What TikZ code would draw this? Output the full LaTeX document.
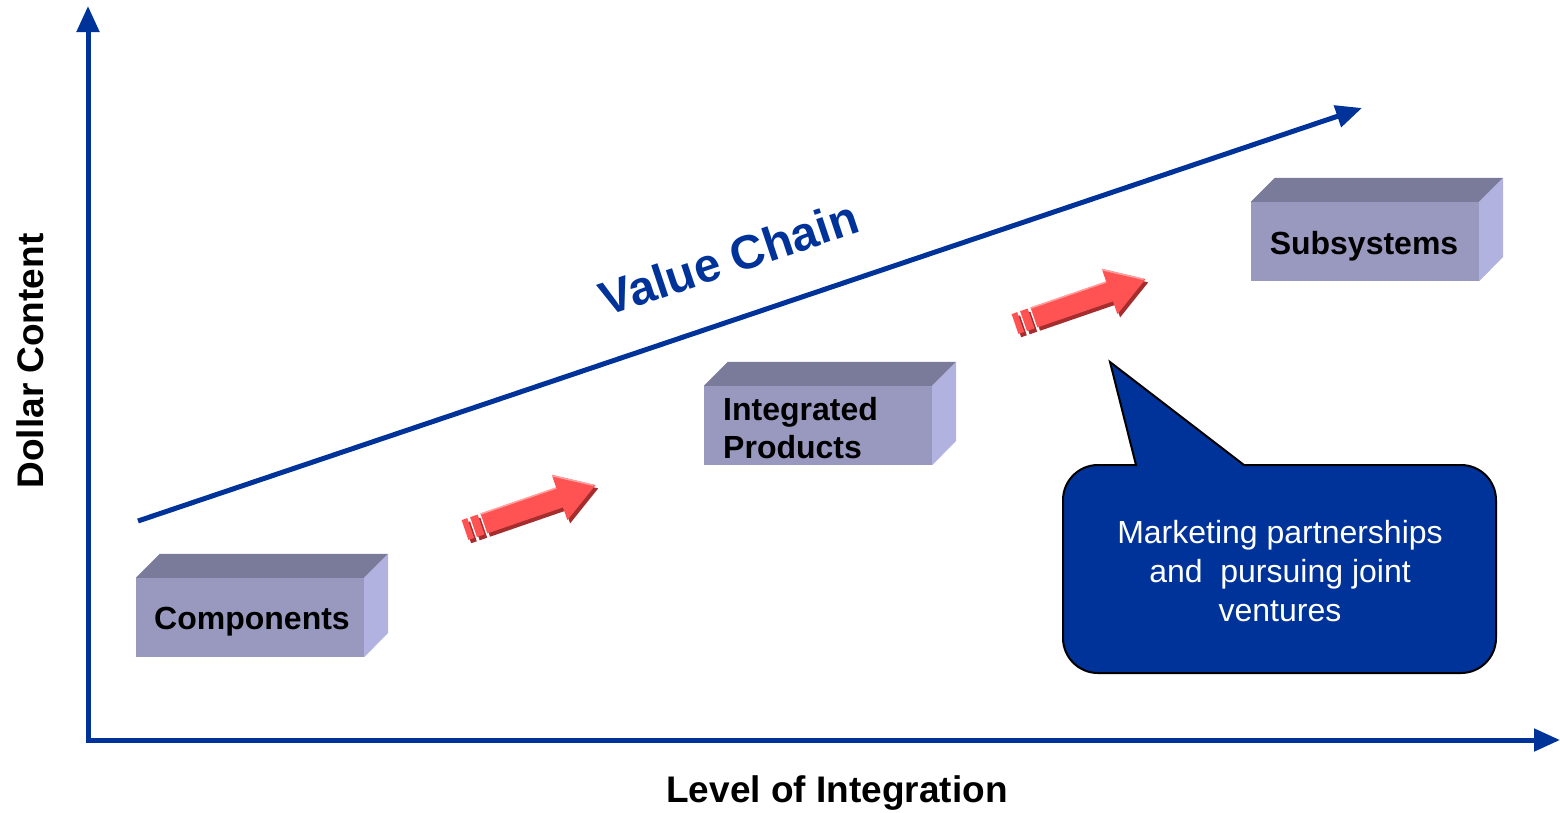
\documentclass[tikz,border=0pt]{standalone}
\usepackage{fontspec}
\setmainfont{Liberation Sans}
\usetikzlibrary{arrows.meta}
\definecolor{axisblue}{RGB}{0,51,153}
\definecolor{boxfront}{RGB}{153,153,192}
\definecolor{boxtop}{RGB}{122,122,154}
\definecolor{boxside}{RGB}{178,178,224}
\definecolor{arrred}{RGB}{255,82,82}
\definecolor{arrdark}{RGB}{165,45,45}
\definecolor{arrlight}{RGB}{255,160,160}
\tikzset{
  axisline/.style={draw=axisblue, line width=5pt},
  bluetip/.style={-{Triangle[width=22pt,length=26pt]}},
  frontbox/.style={fill=boxfront, minimum width=228pt, minimum height=79pt, inner sep=0pt},
  boxlabel/.style={font=\bfseries\fontsize{32}{38}\selectfont, text=black, inner sep=0pt},
  axislabel/.style={font=\bfseries\fontsize{37}{42}\selectfont, text=black},
  callout/.style={fill=axisblue, draw=black, line width=2pt, line join=miter},
  calltext/.style={font=\fontsize{32}{39}\selectfont, text=white, align=center},
  redarrow/.pic={
    \begin{scope}[shift={(1.5,4)}]
      \fill[arrdark] (0,-10.5) rectangle (6,10.5) (9,-10.5) rectangle (17,10.5)
        (20,-10.5) -- (100,-10.5) -- (100,-24) -- (138,0) -- (100,24) -- (100,10.5) -- (20,10.5) -- cycle;
    \end{scope}
    \fill[arrred] (0,-10.5) rectangle (6,10.5) (9,-10.5) rectangle (17,10.5)
        (20,-10.5) -- (100,-10.5) -- (100,-24) -- (138,0) -- (100,24) -- (100,10.5) -- (20,10.5) -- cycle;
    \draw[arrlight, line width=1.5pt] (20,-10) -- (100,-10) (100,-23) -- (136,-0.5);
  }
}
\begin{document}
\begin{tikzpicture}[x=1pt,y=-1pt]
\useasboundingbox (0,0) rectangle (1560,812);

% axes
\coordinate (ytip) at (88,6);
\coordinate (origin) at (88,740);
\coordinate (xtip) at (1560,740);
\draw[axisline, {Triangle[width=22pt,length=26pt]}-{Triangle[width=22pt,length=26pt]}] (ytip) -- (origin) -- (xtip);

% value chain line
\coordinate (vc0) at (138,521);
\coordinate (vc1) at (1362,108);
\draw[axisline, bluetip] (vc0) -- (vc1);
\node[font=\bfseries\fontsize{47.5}{50}\selectfont, text=axisblue, rotate=18.5] (vctext) at (729,258) {Value Chain};

% boxes
\node[frontbox] (comp) at (250,617.5) {};
\fill[boxtop] (comp.north west) -- ++(24,-24) -- ([shift={(24,-24)}]comp.north east) -- (comp.north east) -- cycle;
\fill[boxside] (comp.north east) -- ++(24,-24) -- ++(0,79) -- (comp.south east) -- cycle;
\node[boxlabel] (comptext) at (252,622) {Components};

\node[frontbox] (integ) at (818,425.5) {};
\fill[boxtop] (integ.north west) -- ++(24,-24) -- ([shift={(24,-24)}]integ.north east) -- (integ.north east) -- cycle;
\fill[boxside] (integ.north east) -- ++(24,-24) -- ++(0,79) -- (integ.south east) -- cycle;
\node[boxlabel, align=left, anchor=west] (integtext) at (723,428) {Integrated\\Products};

\node[frontbox] (subs) at (1365,241.5) {};
\fill[boxtop] (subs.north west) -- ++(24,-24) -- ([shift={(24,-24)}]subs.north east) -- (subs.north east) -- cycle;
\fill[boxside] (subs.north east) -- ++(24,-24) -- ++(0,79) -- (subs.south east) -- cycle;
\node[boxlabel] (substext) at (1364,246) {Subsystems};

% red arrows
\pic[rotate=19] (arrowA) at (465,530) {redarrow};
\pic[rotate=19] (arrowB) at (1015,324) {redarrow};

% callout
\coordinate (ctip) at (1110,362);
\draw[callout] (ctip) -- (1244,465) -- (1461,465)
  arc[start angle=90, end angle=0, radius=35pt] -- (1496,638)
  arc[start angle=0, end angle=-90, radius=35pt] -- (1098,673)
  arc[start angle=270, end angle=180, radius=35pt] -- (1063,500)
  arc[start angle=180, end angle=90, radius=35pt] -- (1136,465) -- cycle;
\node[calltext] (ctext) at (1280,571) {Marketing partnerships\\and \ pursuing joint\\ventures};

% axis labels
\node[axislabel] (xlabel) at (837,793) {Level of Integration};
\node[axislabel, rotate=90] (ylabel) at (30,361) {Dollar Content};
\end{tikzpicture}
\end{document}
